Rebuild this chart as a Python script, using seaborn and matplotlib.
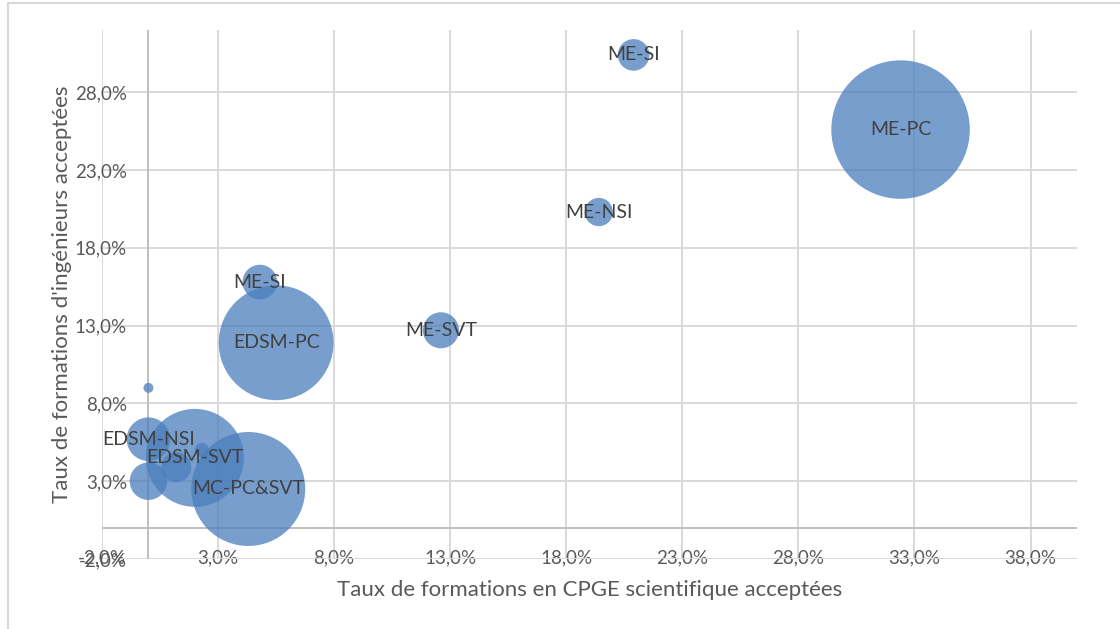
import matplotlib
matplotlib.use("Agg")
import matplotlib.pyplot as plt
from matplotlib.patches import Rectangle
import pandas as pd
import seaborn as sns

# Données (taux en %)
doublettes = ["ME-SI", "ME-PC", "ME-NSI", "ME-SVT", "ME-SI", "EDSM-PC", "",
              "EDSM-NSI", "", "EDSM-SVT", "", "", "MC-PC&SVT"]
taux_cpge = [20.9, 32.4, 19.4, 12.6, 4.8, 5.5, 0.0, 0.0, 0.0, 2.0, 1.2, 2.3, 4.3]
taux_inge = [30.4, 25.6, 20.3, 12.7, 15.8, 11.9, 9.0, 5.7, 3.0, 4.5, 3.9, 5.0, 2.5]
taille = [10, 192, 8, 13, 12, 132, 1, 19, 14, 96, 9, 2, 130]

x_ticks = [-2, 3, 8, 13, 18, 23, 28, 33, 38]
y_ticks = [-2, 3, 8, 13, 18, 23, 28]

df = pd.DataFrame({"doublette": doublettes, "cpge": taux_cpge,
                   "inge": taux_inge, "taille": taille})

sns.set_theme(style="whitegrid")
plt.rcParams['font.family'] = ['Lato', 'DejaVu Sans']

fig = plt.figure(figsize=(11.2, 6.29), dpi=100)
ax = fig.add_axes([102 / 1120, 70 / 629, 975 / 1120, 529 / 629])

gris_grille = "#D9D9D9"
gris_texte = "#595959"

ax.axhline(0, color="#BFBFBF", lw=1.4, zorder=0.8)
ax.axvline(0, color="#BFBFBF", lw=1.4, zorder=0.8)

# aire des bulles proportionnelle à la taille
sns.scatterplot(data=df, x="cpge", y="inge", size="taille",
                sizes=(0, 51.8 * 200), size_norm=(0, 200),
                color="#4A7EBB", alpha=0.75, edgecolor="none",
                legend=False, ax=ax, zorder=2)

for lab, xv, yv in zip(doublettes, taux_cpge, taux_inge):
    if lab:
        ax.text(xv, yv, lab, ha="center", va="center", fontsize=14,
                color="#404040", zorder=3)

ax.set_xlim(-2, 40)
ax.set_ylim(-2, 32)
ax.set_xticks(x_ticks)
ax.set_yticks(y_ticks)
ax.set_xticklabels([f"{v:.1f}%".replace(".", ",") for v in x_ticks])
ax.set_yticklabels([f"{v:.1f}%".replace(".", ",") for v in y_ticks])
ax.tick_params(axis="x", length=0, pad=-7, labelsize=13.5, labelcolor=gris_texte)
ax.tick_params(axis="y", length=0, pad=-18, labelsize=13.5, labelcolor=gris_texte)
ax.grid(True, color=gris_grille, lw=1.4)
ax.set_axisbelow(True)
for sp in ax.spines.values():
    sp.set_visible(False)

ax.set_xlabel("Taux de formations en CPGE scientifique acceptées",
              fontsize=16, color=gris_texte, labelpad=10)
ax.set_ylabel("Taux de formations d'ingénieurs acceptées",
              fontsize=16, color=gris_texte, labelpad=2)

# cadre du graphique
fig.add_artist(Rectangle((8 / 1120, -0.1), 1.2, 1.1 - 3 / 629,
                         transform=fig.transFigure, fill=False,
                         edgecolor=gris_grille, lw=1.5))

fig.savefig("out.png", dpi=100)
